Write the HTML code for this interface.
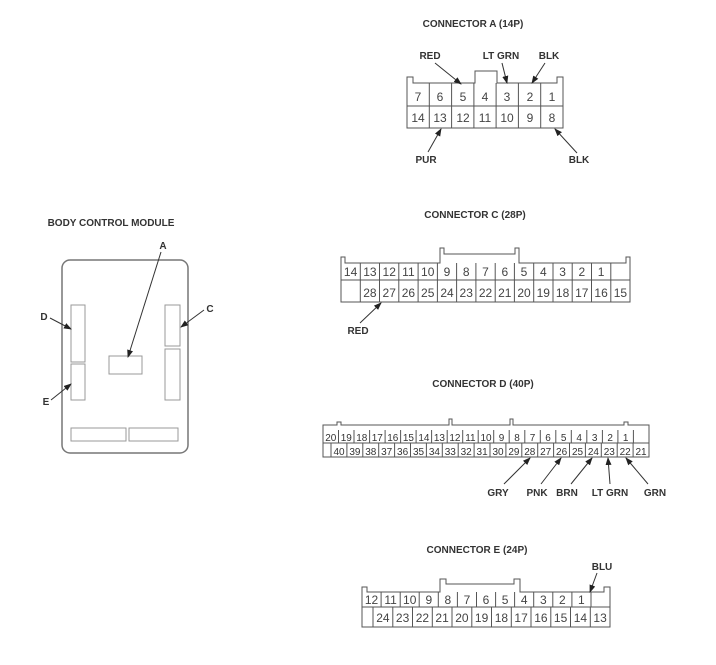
<!DOCTYPE html>
<html><head><meta charset="utf-8"><style>
html,body{margin:0;padding:0;background:#fff;}
svg{display:block;}
text{font-family:"Liberation Sans",Arial,sans-serif;fill:#333;}
.t{font-size:10px;font-weight:bold;text-anchor:middle;}
.n{font-size:12px;text-anchor:middle;fill:#444;}
.s{font-size:10px;text-anchor:middle;fill:#444;}
.l{fill:none;stroke:#555;stroke-width:1;}
.g{fill:none;stroke:#999;stroke-width:1;}
.a{stroke:#333;stroke-width:1;marker-end:url(#ar);}
</style></head><body>
<svg width="716" height="665" viewBox="0 0 716 665" xmlns="http://www.w3.org/2000/svg">
<defs><marker id="ar" markerWidth="8" markerHeight="6" refX="7" refY="3" orient="auto" markerUnits="userSpaceOnUse"><path d="M0,0 L8,3 L0,6 z" fill="#222"/></marker></defs>

<!-- BCM -->
<text class="t" x="111" y="226">BODY CONTROL MODULE</text>
<rect x="62" y="260" width="126" height="193" rx="8" fill="none" stroke="#777" stroke-width="1.5"/>
<rect class="g" x="71" y="305" width="14" height="57"/>
<rect class="g" x="71" y="364" width="14" height="36"/>
<rect class="g" x="165" y="305" width="15" height="41"/>
<rect class="g" x="165" y="349" width="15" height="51"/>
<rect class="g" x="109" y="356" width="33" height="18"/>
<rect class="g" x="71" y="428" width="55" height="13"/>
<rect class="g" x="129" y="428" width="49" height="13"/>
<text class="t" x="163" y="249">A</text>
<line class="a" x1="161" y1="252" x2="128" y2="357"/>
<text class="t" x="44" y="320">D</text>
<line class="a" x1="50" y1="318" x2="71" y2="329"/>
<text class="t" x="46" y="405">E</text>
<line class="a" x1="51" y1="400" x2="71" y2="384"/>
<text class="t" x="210" y="312">C</text>
<line class="a" x1="204" y1="310" x2="181" y2="327"/>

<!-- CONNECTOR A -->
<text class="t" x="473" y="27">CONNECTOR A (14P)</text>
<path class="l" d="M407,128 V77 H413 V83 H475 V71 H497 V83 H557 V77 H563 V128 Z"/>
<line class="l" x1="407" y1="106" x2="563" y2="106"/>
<g class="l">
<line x1="429.3" y1="83" x2="429.3" y2="128"/><line x1="451.6" y1="83" x2="451.6" y2="128"/><line x1="473.9" y1="83" x2="473.9" y2="128"/><line x1="496.1" y1="83" x2="496.1" y2="128"/><line x1="518.4" y1="83" x2="518.4" y2="128"/><line x1="540.7" y1="83" x2="540.7" y2="128"/>
</g>
<text class="n" x="418" y="101">7</text><text class="n" x="440" y="101">6</text><text class="n" x="463" y="101">5</text><text class="n" x="485" y="101">4</text><text class="n" x="507" y="101">3</text><text class="n" x="530" y="101">2</text><text class="n" x="552" y="101">1</text>
<text class="n" x="418" y="122">14</text><text class="n" x="440" y="122">13</text><text class="n" x="463" y="122">12</text><text class="n" x="485" y="122">11</text><text class="n" x="507" y="122">10</text><text class="n" x="530" y="122">9</text><text class="n" x="552" y="122">8</text>
<text class="t" x="430" y="59">RED</text>
<line class="a" x1="435" y1="63" x2="461" y2="84"/>
<text class="t" x="501" y="59">LT GRN</text>
<line class="a" x1="502" y1="63" x2="507" y2="83"/>
<text class="t" x="549" y="59">BLK</text>
<line class="a" x1="545" y1="63" x2="532" y2="83"/>
<text class="t" x="426" y="163">PUR</text>
<line class="a" x1="428" y1="152" x2="441" y2="129"/>
<text class="t" x="579" y="163">BLK</text>
<line class="a" x1="577" y1="153" x2="555" y2="129"/>

<!-- CONNECTOR C -->
<text class="t" x="475" y="218">CONNECTOR C (28P)</text>
<path class="l" d="M341,302 V257 H345 V263 H440 V248 H444 V254 H515 V248 H519 V263 H626 V257 H630 V302 Z"/>
<line class="l" x1="341" y1="280" x2="630" y2="280"/>
<g class="l">
<line x1="360.3" y1="263" x2="360.3" y2="302"/><line x1="379.5" y1="263" x2="379.5" y2="302"/><line x1="398.8" y1="263" x2="398.8" y2="302"/><line x1="418.1" y1="263" x2="418.1" y2="302"/><line x1="437.4" y1="263" x2="437.4" y2="302"/><line x1="456.6" y1="263" x2="456.6" y2="302"/><line x1="475.9" y1="263" x2="475.9" y2="302"/><line x1="495.2" y1="263" x2="495.2" y2="302"/><line x1="514.4" y1="263" x2="514.4" y2="302"/><line x1="533.7" y1="263" x2="533.7" y2="302"/><line x1="553" y1="263" x2="553" y2="302"/><line x1="572.2" y1="263" x2="572.2" y2="302"/><line x1="591.5" y1="263" x2="591.5" y2="302"/><line x1="610.8" y1="263" x2="610.8" y2="302"/>
</g>
<text class="n" x="350.6" y="276">14</text><text class="n" x="369.9" y="276">13</text><text class="n" x="389.2" y="276">12</text><text class="n" x="408.4" y="276">11</text><text class="n" x="427.7" y="276">10</text><text class="n" x="447" y="276">9</text><text class="n" x="466.2" y="276">8</text><text class="n" x="485.5" y="276">7</text><text class="n" x="504.8" y="276">6</text><text class="n" x="524" y="276">5</text><text class="n" x="543.3" y="276">4</text><text class="n" x="562.6" y="276">3</text><text class="n" x="581.8" y="276">2</text><text class="n" x="601.1" y="276">1</text>
<text class="n" x="369.9" y="297">28</text><text class="n" x="389.2" y="297">27</text><text class="n" x="408.4" y="297">26</text><text class="n" x="427.7" y="297">25</text><text class="n" x="447" y="297">24</text><text class="n" x="466.2" y="297">23</text><text class="n" x="485.5" y="297">22</text><text class="n" x="504.8" y="297">21</text><text class="n" x="524" y="297">20</text><text class="n" x="543.3" y="297">19</text><text class="n" x="562.6" y="297">18</text><text class="n" x="581.8" y="297">17</text><text class="n" x="601.1" y="297">16</text><text class="n" x="620.4" y="297">15</text>
<text class="t" x="358" y="334">RED</text>
<line class="a" x1="360" y1="323" x2="381" y2="303"/>

<!-- CONNECTOR D -->
<text class="t" x="483" y="387">CONNECTOR D (40P)</text>
<path class="l" d="M323,457 V425 H337 V422 H341 V425 H449 V419 H452 V425 H510 V419 H513 V425 H624 V422 H628 V425 H649 V457 Z"/>
<line class="l" x1="323" y1="443" x2="649" y2="443"/>
<g class="l">
<line x1="338.5" y1="430" x2="338.5" y2="443"/><line x1="354" y1="430" x2="354" y2="443"/><line x1="369.6" y1="430" x2="369.6" y2="443"/><line x1="385.1" y1="430" x2="385.1" y2="443"/><line x1="400.6" y1="430" x2="400.6" y2="443"/><line x1="416.1" y1="430" x2="416.1" y2="443"/><line x1="431.6" y1="430" x2="431.6" y2="443"/><line x1="447.2" y1="430" x2="447.2" y2="443"/><line x1="462.7" y1="430" x2="462.7" y2="443"/><line x1="478.2" y1="430" x2="478.2" y2="443"/><line x1="493.7" y1="430" x2="493.7" y2="443"/><line x1="509.2" y1="430" x2="509.2" y2="443"/><line x1="524.8" y1="430" x2="524.8" y2="443"/><line x1="540.3" y1="430" x2="540.3" y2="443"/><line x1="555.8" y1="430" x2="555.8" y2="443"/><line x1="571.3" y1="430" x2="571.3" y2="443"/><line x1="586.8" y1="430" x2="586.8" y2="443"/><line x1="602.4" y1="430" x2="602.4" y2="443"/><line x1="617.9" y1="430" x2="617.9" y2="443"/><line x1="633.4" y1="430" x2="633.4" y2="443"/>
<line x1="331" y1="443" x2="331" y2="457"/><line x1="346.9" y1="443" x2="346.9" y2="457"/><line x1="362.8" y1="443" x2="362.8" y2="457"/><line x1="378.7" y1="443" x2="378.7" y2="457"/><line x1="394.6" y1="443" x2="394.6" y2="457"/><line x1="410.5" y1="443" x2="410.5" y2="457"/><line x1="426.4" y1="443" x2="426.4" y2="457"/><line x1="442.3" y1="443" x2="442.3" y2="457"/><line x1="458.2" y1="443" x2="458.2" y2="457"/><line x1="474.1" y1="443" x2="474.1" y2="457"/><line x1="490" y1="443" x2="490" y2="457"/><line x1="505.9" y1="443" x2="505.9" y2="457"/><line x1="521.8" y1="443" x2="521.8" y2="457"/><line x1="537.7" y1="443" x2="537.7" y2="457"/><line x1="553.6" y1="443" x2="553.6" y2="457"/><line x1="569.5" y1="443" x2="569.5" y2="457"/><line x1="585.4" y1="443" x2="585.4" y2="457"/><line x1="601.3" y1="443" x2="601.3" y2="457"/><line x1="617.2" y1="443" x2="617.2" y2="457"/><line x1="633.1" y1="443" x2="633.1" y2="457"/>
</g>
<g class="s">
<text x="330.8" y="441">20</text><text x="346.3" y="441">19</text><text x="361.8" y="441">18</text><text x="377.3" y="441">17</text><text x="392.8" y="441">16</text><text x="408.4" y="441">15</text><text x="423.9" y="441">14</text><text x="439.4" y="441">13</text><text x="454.9" y="441">12</text><text x="470.4" y="441">11</text><text x="486" y="441">10</text><text x="501.5" y="441">9</text><text x="517" y="441">8</text><text x="532.5" y="441">7</text><text x="548" y="441">6</text><text x="563.6" y="441">5</text><text x="579.1" y="441">4</text><text x="594.6" y="441">3</text><text x="610.1" y="441">2</text><text x="625.6" y="441">1</text>
<text x="339" y="455">40</text><text x="354.9" y="455">39</text><text x="370.8" y="455">38</text><text x="386.7" y="455">37</text><text x="402.6" y="455">36</text><text x="418.5" y="455">35</text><text x="434.4" y="455">34</text><text x="450.3" y="455">33</text><text x="466.2" y="455">32</text><text x="482.1" y="455">31</text><text x="498" y="455">30</text><text x="513.9" y="455">29</text><text x="529.8" y="455">28</text><text x="545.7" y="455">27</text><text x="561.6" y="455">26</text><text x="577.5" y="455">25</text><text x="593.4" y="455">24</text><text x="609.3" y="455">23</text><text x="625.2" y="455">22</text><text x="641" y="455">21</text>
</g>
<text class="t" x="498" y="496">GRY</text><line class="a" x1="504" y1="484" x2="530" y2="458"/>
<text class="t" x="537" y="496">PNK</text><line class="a" x1="541" y1="484" x2="561" y2="458"/>
<text class="t" x="567" y="496">BRN</text><line class="a" x1="571" y1="484" x2="592" y2="458"/>
<text class="t" x="610" y="496">LT GRN</text><line class="a" x1="610" y1="484" x2="608" y2="458"/>
<text class="t" x="655" y="496">GRN</text><line class="a" x1="648" y1="484" x2="626" y2="458"/>

<!-- CONNECTOR E -->
<text class="t" x="477" y="553">CONNECTOR E (24P)</text>
<path class="l" d="M362,627 V587 H367 V592 H440 V579 H446 V584 H514 V579 H520 V592 H604 V587 H610 V627 Z"/>
<line class="l" x1="362" y1="607" x2="610" y2="607"/>
<g class="l">
<line x1="381.1" y1="592" x2="381.1" y2="607"/><line x1="400.2" y1="592" x2="400.2" y2="607"/><line x1="419.2" y1="592" x2="419.2" y2="607"/><line x1="438.3" y1="592" x2="438.3" y2="607"/><line x1="457.4" y1="592" x2="457.4" y2="607"/><line x1="476.5" y1="592" x2="476.5" y2="607"/><line x1="495.6" y1="592" x2="495.6" y2="607"/><line x1="514.6" y1="592" x2="514.6" y2="607"/><line x1="533.7" y1="592" x2="533.7" y2="607"/><line x1="552.8" y1="592" x2="552.8" y2="607"/><line x1="571.9" y1="592" x2="571.9" y2="607"/><line x1="591" y1="592" x2="591" y2="607"/>
<line x1="373" y1="607" x2="373" y2="627"/><line x1="392.8" y1="607" x2="392.8" y2="627"/><line x1="412.5" y1="607" x2="412.5" y2="627"/><line x1="432.3" y1="607" x2="432.3" y2="627"/><line x1="452" y1="607" x2="452" y2="627"/><line x1="471.8" y1="607" x2="471.8" y2="627"/><line x1="491.5" y1="607" x2="491.5" y2="627"/><line x1="511.3" y1="607" x2="511.3" y2="627"/><line x1="531" y1="607" x2="531" y2="627"/><line x1="550.8" y1="607" x2="550.8" y2="627"/><line x1="570.5" y1="607" x2="570.5" y2="627"/><line x1="590.3" y1="607" x2="590.3" y2="627"/>
</g>
<text class="n" x="371.5" y="604">12</text><text class="n" x="390.6" y="604">11</text><text class="n" x="409.7" y="604">10</text><text class="n" x="428.8" y="604">9</text><text class="n" x="447.9" y="604">8</text><text class="n" x="467" y="604">7</text><text class="n" x="486" y="604">6</text><text class="n" x="505.1" y="604">5</text><text class="n" x="524.2" y="604">4</text><text class="n" x="543.3" y="604">3</text><text class="n" x="562.4" y="604">2</text><text class="n" x="581.4" y="604">1</text>
<text class="n" x="382.9" y="622">24</text><text class="n" x="402.6" y="622">23</text><text class="n" x="422.4" y="622">22</text><text class="n" x="442.1" y="622">21</text><text class="n" x="461.9" y="622">20</text><text class="n" x="481.6" y="622">19</text><text class="n" x="501.4" y="622">18</text><text class="n" x="521.1" y="622">17</text><text class="n" x="540.9" y="622">16</text><text class="n" x="560.6" y="622">15</text><text class="n" x="580.4" y="622">14</text><text class="n" x="600.1" y="622">13</text>
<text class="t" x="602" y="570">BLU</text>
<line class="a" x1="597" y1="573" x2="590" y2="592"/>
</svg>
</body></html>
